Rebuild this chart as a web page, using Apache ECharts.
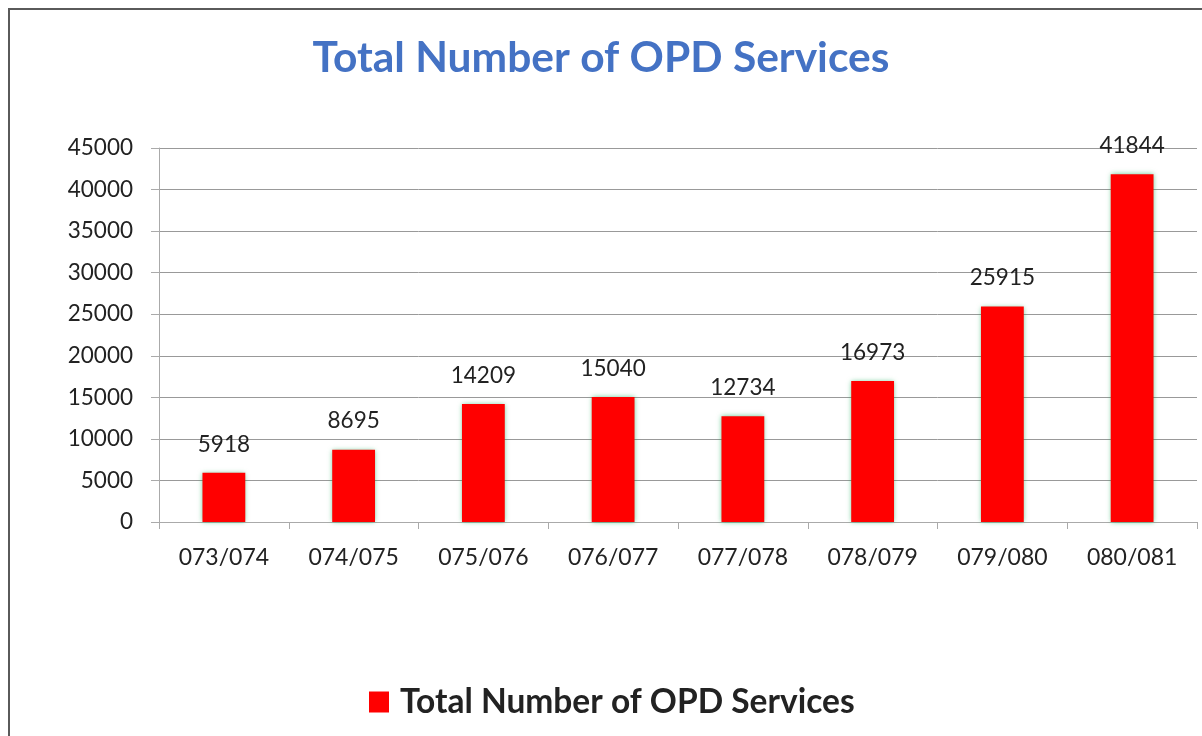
<!DOCTYPE html>
<html>
<head>
<meta charset="utf-8">
<script src="https://cdn.jsdelivr.net/npm/echarts@6/dist/echarts.min.js"></script>
<style>
html,body{margin:0;padding:0;background:#fff;}
#c{width:1202px;height:736px;}
</style>
</head>
<body>
<div id="c"></div>
<script>
const categories = ['073/074','074/075','075/076','076/077','077/078','078/079','079/080','080/081'];
const opdValues = [5918, 8695, 14209, 15040, 12734, 16973, 25915, 41844];
const seriesName = 'Total Number of OPD Services';
const titleText = 'Total Number of OPD Services';

const chart = echarts.init(document.getElementById('c'));
const FONT = 'Lato, "Open Sans", sans-serif';
chart.setOption({
  animation: false,
  backgroundColor: '#fff',
  graphic: [{
    type: 'rect',
    shape: {x: 9, y: 9, width: 1250, height: 800},
    style: {fill: 'none', stroke: '#5a5a5a', lineWidth: 2},
    silent: true
  }],
  title: {
    text: titleText,
    left: 'center',
    top: 32,
    textStyle: {fontFamily: FONT, fontWeight: 'bold', fontSize: 42.5, color: '#4472C4'}
  },
  legend: {
    bottom: 12,
    left: 364,
    itemWidth: 20,
    itemHeight: 21,
    itemGap: 10,
    icon: 'rect',
    textStyle: {fontFamily: FONT, fontWeight: 'bold', fontSize: 33.5, color: '#222', padding: [0, 0, 0, 6]}
  },
  grid: {left: 159, right: 5, top: 148, bottom: 214, containLabel: false},
  xAxis: {
    type: 'category',
    data: categories,
    axisLine: {lineStyle: {color: '#aaa', width: 1}},
    axisTick: {show: true, length: 7, lineStyle: {color: '#aaa'}},
    axisLabel: {fontFamily: FONT, fontSize: 23, color: '#222', margin: 24}
  },
  yAxis: {
    type: 'value',
    min: 0, max: 45000, interval: 5000,
    axisLine: {show: true, lineStyle: {color: '#aaa'}},
    axisTick: {show: true, length: 8, inside: false, lineStyle: {color: '#aaa'}},
    splitLine: {lineStyle: {color: '#999'}},
    axisLabel: {fontFamily: FONT, fontSize: 22.5, color: '#222', margin: 26, formatter: v => String(v)}
  },
  series: [{
    name: seriesName,
    type: 'bar',
    data: opdValues,
    barWidth: '33%',
    itemStyle: {color: '#FF0000', shadowColor: 'rgba(0,170,80,0.6)', shadowBlur: 5},
    label: {show: true, position: 'top', distance: 17, fontFamily: FONT, fontSize: 22.5, color: '#222'}
  }]
});
</script>
</body>
</html>
